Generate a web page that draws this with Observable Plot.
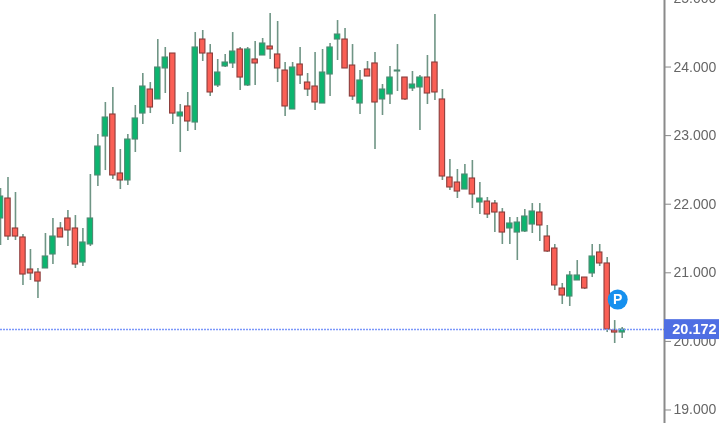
<!DOCTYPE html>
<html><head><meta charset="utf-8">
<style>html,body{margin:0;padding:0;background:#fff;overflow:hidden}svg{filter:blur(0.35px)}</style>
<script src="https://cdn.jsdelivr.net/npm/d3@7"></script>
<script src="https://cdn.jsdelivr.net/npm/@observablehq/plot@0.6"></script>
</head><body><div id="chart"></div>
<script>
const openPrices = [21792,22083,21646,21515,21048,21004,21063,21267,21646,21792,21646,21150,21413,22419,22987,23308,22448,22346,22943,23322,23672,23527,23979,24197,23279,23425,23191,24401,24197,23731,24008,24052,24256,23731,24110,24168,24299,24183,23949,23381,24037,23774,23716,23468,23891,24401,24401,24022,23468,23964,24052,23527,23600,23935,23847,23687,23702,23847,24066,23527,22389,22316,22214,22375,22025,22039,22010,21879,21646,21587,21602,21704,21879,21529,21354,20771,20654,20888,20931,20990,21296,21136,20159,20129];
const highPrices = [22229,22389,22171,21558,21340,21063,21573,21792,21733,21908,21835,21646,22433,23016,23483,23702,22798,23016,23439,23906,23774,24401,24285,24197,23454,23629,24503,24533,24328,24110,24183,24503,24285,24285,24372,24416,24780,24664,24066,24066,24285,23906,24212,24256,24343,24678,24562,24328,23949,24081,24212,23745,24008,24328,23847,23935,23877,24168,24766,23672,22652,22506,22579,22637,22316,22098,22054,21937,21806,21806,21923,22010,22010,21690,21413,20844,21019,21179,20931,21413,21413,21223,20304,20202];
const lowPrices = [21398,21471,21471,20815,20888,20625,21063,21121,21515,21383,21063,21092,21383,22258,22491,22360,22214,22273,22754,23162,23322,23527,23614,23162,22754,23060,23075,24081,23570,23702,23993,23979,23658,23716,23731,24168,24110,23774,23279,23381,23745,23570,23366,23468,23570,24095,23979,23512,23308,23862,22798,23293,23454,23643,23512,23643,23075,23454,23512,22346,22200,22083,22214,21937,21850,21792,21587,21413,21413,21179,21587,21573,21456,21296,20742,20538,20509,20888,20756,20931,21092,20129,19969,20042];
const closePrices = [22112,21529,21529,20975,20990,20873,21238,21529,21515,21617,21121,21442,21792,22841,23264,22419,22346,22943,23250,23716,23410,23993,24139,23322,23337,23206,24285,24197,23629,23920,24066,24226,23847,24256,24052,24343,24256,23979,23425,23993,23877,23672,23483,23920,24285,24474,23979,23570,23804,23862,23483,23672,23847,23949,23527,23745,23847,23614,23629,22404,22244,22185,22433,22142,22083,21850,21879,21587,21719,21733,21821,21894,21690,21310,20815,20669,20961,20961,20771,21238,21136,20173,20129,20173];
const tickValues = [19000,20000,21000,22000,23000,24000,25000];
const lastPrice = 20172;
const markerIndex = 82.4;
const markerPrice = 20610;
const markerLabel = "P";

const candles = openPrices.map((o,i)=>({i,o,h:highPrices[i],l:lowPrices[i],c:closePrices[i],up:closePrices[i]>=o}));
const fmt = v => d3.format(",.0f")(v).replace(/,/g,".");
const font = "'Liberation Sans', Arial, sans-serif";

const plot = Plot.plot({
  width:719, height:423,
  marginLeft:0, marginRight:55, marginTop:0, marginBottom:0,
  style:{background:"#fff",fontFamily:font},
  x:{type:"linear",domain:[0,88.65],axis:null},
  y:{type:"linear",domain:[18803,24970],axis:null},
  marks:[
    Plot.ruleX(candles,{x:"i",y1:"l",y2:"h",stroke:"#5f8a78",strokeWidth:1.6,strokeOpacity:.9}),
    Plot.rect(candles,{
      x1:d=>d.i-0.36,x2:d=>d.i+0.36,
      y1:d=>Math.min(d.o,d.c),y2:d=>Math.max(d.o,d.c),
      fill:d=>d.up?"#0cb56f":"#fa5f55",
      stroke:d=>d.up?"#4d8a72":"#8c3d3b",strokeWidth:1.1
    }),
    Plot.ruleY([lastPrice],{x1:0,x2:88.65,stroke:"#7c98fa",strokeWidth:1.5,strokeDasharray:"2,1"}),
    Plot.dot([{x:markerIndex,y:markerPrice}],{x:"x",y:"y",r:10,fill:"#1690ee",stroke:"none"}),
    Plot.text([{x:markerIndex,y:markerPrice}],{x:"x",y:"y",text:()=>markerLabel,fill:"#fff",fontWeight:700,fontSize:14}),
    Plot.ruleX([88.65],{stroke:"#8a8a8a",strokeWidth:2,y1:18803,y2:24970}),
    Plot.axisY(tickValues,{anchor:"right",tickSize:6,tickPadding:3,tickFormat:fmt,fontSize:14,color:"#666",stroke:"#8a8a8a"}),
    Plot.rect([lastPrice],{x1:88.65,x2:97,y1:d=>d-145,y2:d=>d+145,fill:"#4f6fe3"}),
    Plot.text([lastPrice],{x:92.65,y:d=>d,text:fmt,fill:"#fff",fontWeight:700,fontSize:14.5,textAnchor:"middle"})
  ]
});
document.getElementById("chart").append(plot);
</script></body></html>
